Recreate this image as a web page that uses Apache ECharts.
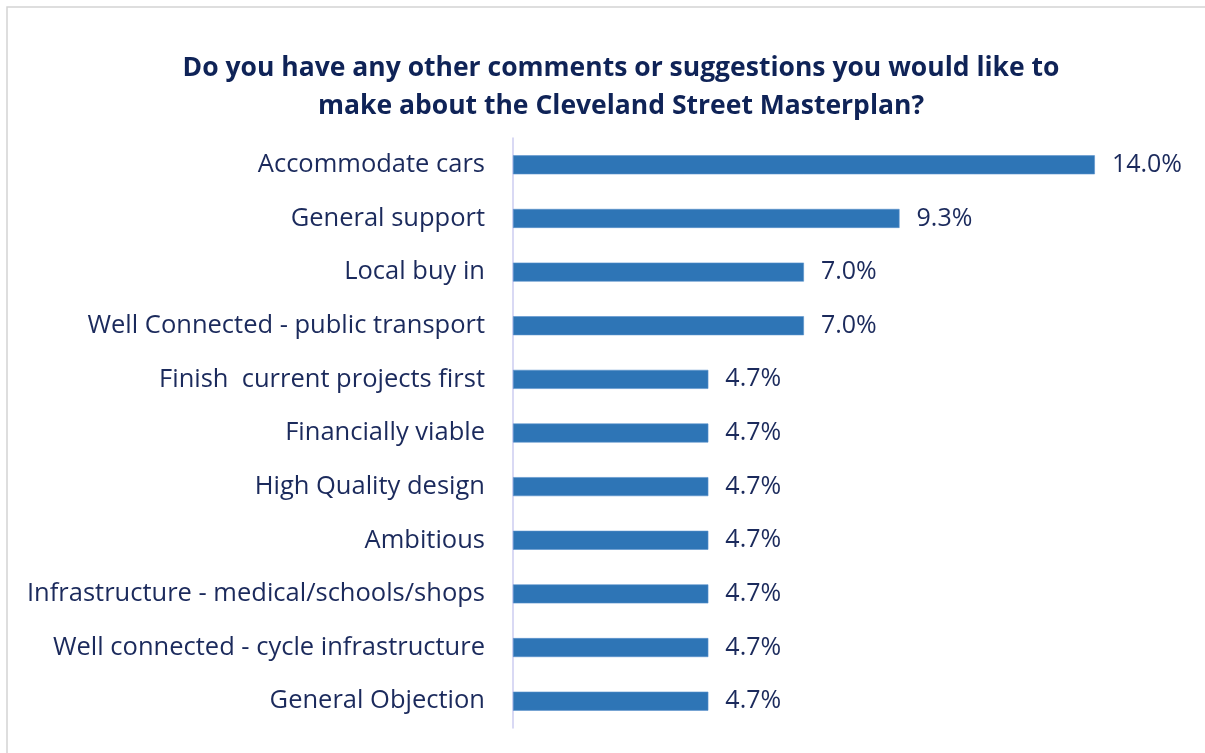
<!DOCTYPE html>
<html>
<head>
<meta charset="utf-8">
<script src="https://cdn.jsdelivr.net/npm/echarts@6/dist/echarts.min.js"></script>
<style>
  html, body { margin: 0; padding: 0; background: #ffffff; }
  #chart { width: 1205px; height: 753px; }
</style>
</head>
<body>
<div id="chart"></div>
<script>
// Survey responses, listed top to bottom as they appear
const categories = [
  'Accommodate cars',
  'General support',
  'Local buy in',
  'Well Connected - public transport',
  'Finish  current projects first',
  'Financially viable',
  'High Quality design',
  'Ambitious',
  'Infrastructure - medical/schools/shops',
  'Well connected - cycle infrastructure',
  'General Objection'
];
const shares = [14.0, 9.3, 7.0, 7.0, 4.7, 4.7, 4.7, 4.7, 4.7, 4.7, 4.7];

const titleLines = [
  'Do you have any other comments or suggestions you would like to',
  'make about the Cleveland Street Masterplan?'
];

const FONT = '"Open Sans", "Noto Sans", sans-serif';
const TEXT = '#1b2a5c';

const chart = echarts.init(document.getElementById('chart'), null, { renderer: 'canvas' });

chart.setOption({
  backgroundColor: '#ffffff',
  animation: false,
  title: {
    text: titleLines.join('\n'),
    left: 616,
    textAlign: 'center',
    top: 44,
    textStyle: {
      fontFamily: FONT,
      fontSize: 26.5,
      fontWeight: 'bold',
      color: '#0f2357',
      lineHeight: 38
    }
  },
  graphic: [{
    type: 'rect',
    shape: { x: 7, y: 7, width: 1240, height: 800 },
    style: { fill: 'none', stroke: '#d4d4d4', lineWidth: 1.5 },
    silent: true
  }],
  grid: { left: 513, right: 27, top: 138, height: 590 },
  xAxis: {
    type: 'value',
    min: 0,
    max: 16,
    show: false
  },
  yAxis: {
    type: 'category',
    inverse: true,
    data: categories,
    axisLine: { show: true, lineStyle: { color: '#cccdf0', width: 1.5 } },
    axisTick: { show: false },
    axisLabel: {
      margin: 28,
      padding: [4, 0, 0, 0],
      fontFamily: FONT,
      fontSize: 25.5,
      color: TEXT
    }
  },
  series: [{
    type: 'bar',
    data: shares,
    barWidth: 19,
    itemStyle: { color: '#2e75b6', borderColor: '#5a92cc', borderWidth: 0.6 },
    label: {
      show: true,
      position: 'right',
      distance: 17,
      padding: [4, 0, 0, 0],
      fontFamily: FONT,
      fontSize: 25,
      color: TEXT,
      formatter: p => p.value.toFixed(1) + '%'
    }
  }]
});
</script>
</body>
</html>
